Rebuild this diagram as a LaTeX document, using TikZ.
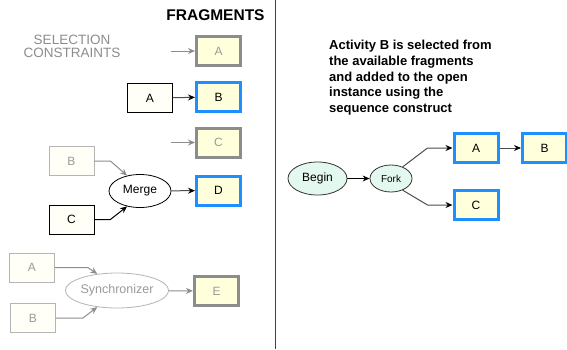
\documentclass[tikz,border=0pt]{standalone}
\usepackage{fontspec}
\setmainfont{Liberation Sans}
\usetikzlibrary{shapes.geometric, arrows.meta, positioning}
\definecolor{frag-fill}{HTML}{FFFFDC}
\definecolor{frag-blue}{HTML}{1E8FFF}
\definecolor{frag-gray}{HTML}{8C8C8C}
\definecolor{act-fill}{HTML}{FFFFF7}
\definecolor{faded}{HTML}{B4B4B4}
\definecolor{faded-text}{HTML}{9A9A9A}
\definecolor{ctl-fill}{HTML}{E3F8EE}
\newcommand{\lbl}{\fontsize{12}{14}\selectfont}

\begin{document}
\begin{tikzpicture}[x=1pt, y=-1pt,
    frag/.style={draw=frag-gray, line width=3pt, fill=frag-fill,
      minimum width=44pt, minimum height=29pt, inner sep=0pt, font=\lbl},
    chosen/.style={frag, draw=frag-blue},
    act/.style={draw=black, line width=0.8pt, fill=act-fill,
      minimum width=45pt, minimum height=29pt, inner sep=0pt, font=\lbl},
    ghost/.style={act, draw=faded, text=faded-text},
    gate/.style={ellipse, draw=black, line width=0.8pt, fill=white,
      minimum width=62pt, minimum height=33pt, inner sep=0pt, font=\lbl},
    ctl/.style={ellipse, draw=black!80, line width=0.8pt, fill=ctl-fill,
      inner sep=0pt, font=\lbl},
    flow/.style={draw=black!70, line width=1pt,
      -{Stealth[length=7pt, width=6pt, black]}},
    weak/.style={draw=frag-gray, line width=1pt,
      -{Stealth[length=7pt, width=6pt, frag-gray]}}]
  \useasboundingbox (0,0) rectangle (567,349);

  % ── left half: fragments and their constraints
  \node[font=\bfseries\fontsize{15.5}{18}\selectfont] (title) at (215.5,15) {FRAGMENTS};
  \node[align=center, text=frag-gray, font=\fontsize{13.5}{13}\selectfont]
        (cons) at (72,46.5) {SELECTION\\CONSTRAINTS};

  \node[frag]   (fA) at (218.5,51)  {\textcolor{faded-text}{A}};
  \node[chosen] (fB) at (218.5,97)  {B};
  \node[frag]   (fC) at (218.5,142.5) {\textcolor{faded-text}{C}};
  \node[chosen] (fD) at (218.5,190.5) {D};
  \node[frag]   (fE) at (216.5,291) {\textcolor{faded-text}{E}};

  \coordinate (inA) at (171,51);
  \coordinate (inC) at (171,142.5);
  \draw[weak] (inA) -- (fA);
  \draw[weak] (inC) -- (fC);

  % A before B
  \node[act] (pA) at (150,98) {A};
  \draw[flow] (pA) -- (fB);

  % B and C merge into D
  \node[ghost] (mB) at (71.5,161) {B};
  \node[act]   (mC) at (71.5,219.5) {C};
  \node[gate]  (merge) at (140,191) {Merge};
  \draw[weak] (mB.east) -- ++(16,0) -- (merge.130);
  \draw[flow, draw=black] (mC.east) -- ++(16,0) -- (merge.230);
  \draw[flow] (merge) -- (fD);

  % A and B synchronised into E
  \node[ghost] (sA) at (32,267.5) {A};
  \node[ghost] (sB) at (33,318) {B};
  \node[gate, draw=faded, text=faded-text, minimum width=100pt,
        minimum height=35pt, font=\fontsize{12.5}{14}\selectfont]
        (sync) at (117,290.5) {Synchronizer};
  \draw[weak] (sA.east) -- ++(33,0) -- (sync.140);
  \draw[weak] (sB.east) -- ++(27,0) -- (sync.220);
  \draw[weak] (sync) -- (fE);

  \draw[draw=black!75, line width=1pt] (275,0) -- (275,349);

  % ── right half: the open instance
  \node[anchor=north west, align=left, inner sep=0pt,
        font=\bfseries\fontsize{13}{15.7}\selectfont] (note) at (329,40)
        {Activity B is selected from\\the available fragments\\and added to the open\\instance using the\\sequence construct};

  \node[ctl, minimum width=59pt, minimum height=33pt] (begin) at (317.5,178.5) {Begin};
  \node[ctl, minimum width=42pt, minimum height=27pt,
        font=\fontsize{10}{12}\selectfont] (fork) at (391,178.5) {Fork};
  \node[chosen] (iA) at (476,148) {A};
  \node[chosen] (iB) at (544.5,148) {B};
  \node[chosen] (iC) at (476,205) {C};

  \draw[flow, draw=black] (begin) -- (fork);
  \draw[flow] (fork.45) -- ([xshift=-25pt]iA.west) -- (iA.west);
  \draw[flow] (fork.-45) -- ([xshift=-25pt]iC.west) -- (iC.west);
  \draw[flow] (iA) -- (iB);
\end{tikzpicture}
\end{document}
